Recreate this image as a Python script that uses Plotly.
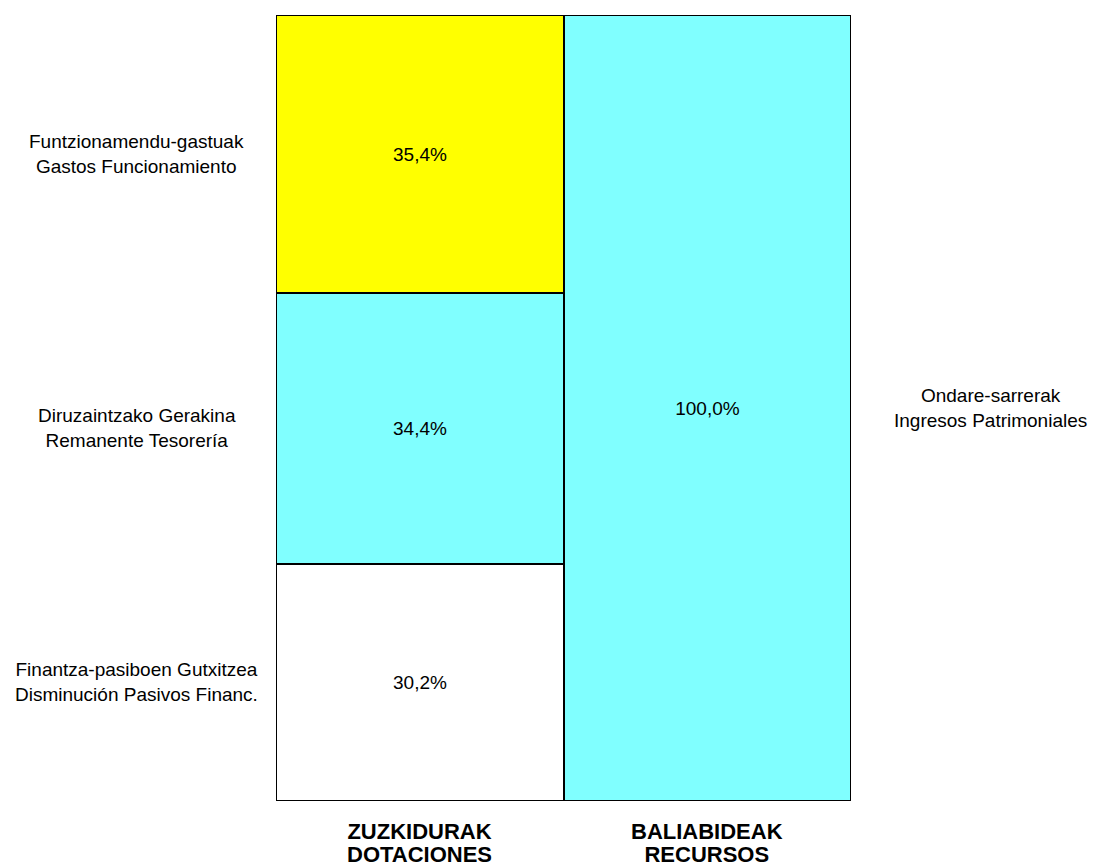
import plotly.graph_objects as go

categories = ["DOTACIONES", "RECURSOS"]
category_labels = [["ZUZKIDURAK", "DOTACIONES"], ["BALIABIDEAK", "RECURSOS"]]
segment_names = [
    "Finantza-pasiboen Gutxitzea<br>Disminución Pasivos Financ.",
    "Diruzaintzako Gerakina<br>Remanente Tesorería",
    "Funtzionamendu-gastuak<br>Gastos Funcionamiento",
    "Ondare-sarrerak<br>Ingresos Patrimoniales",
]
segment_category = [0, 0, 0, 1]
segment_values = [30.2, 34.4, 35.4, 100.0]
segment_colors = ["#FFFFFF", "#80FFFF", "#FFFF00", "#80FFFF"]
label_side = ["left", "left", "left", "right"]

FONT = "Liberation Sans, Arial, sans-serif"

fig = go.Figure()
cum = {0: 0.0, 1: 0.0}
annotations = []
for name, ci, v, col, side in zip(segment_names, segment_category, segment_values, segment_colors, label_side):
    txt = f"{v:.1f}%".replace(".", ",")
    fig.add_trace(go.Bar(
        x=[categories[ci]], y=[v], name=name,
        marker=dict(color=col, line=dict(color="black", width=2)),
        text=[txt], textposition="inside", insidetextanchor="middle",
        textfont=dict(family=FONT, size=19, color="black"),
        hoverinfo="skip",
    ))
    mid = cum[ci] + v / 2
    cum[ci] += v
    annotations.append(dict(
        x=-0.242 if side == "left" else 1.242, xref="paper",
        y=mid, yref="y", text=name, showarrow=False,
        xanchor="center", yanchor="middle",
        font=dict(family=FONT, size=19, color="black"), align="center",
    ))

# category labels: two bold lines with tight line spacing
for cat, lines in zip(categories, category_labels):
    label = "<br>".join(f'<span style="font-size:22px"><b>{ln}</b></span>' for ln in lines)
    annotations.append(dict(
        x=cat, xref="x", y=-0.0535, yref="paper",
        text=label, showarrow=False,
        xanchor="center", yanchor="middle", align="center",
        font=dict(family=FONT, size=17.5, color="black"),
    ))

fig.update_layout(
    barmode="stack", bargap=0,
    width=1095, height=866,
    margin=dict(l=276, r=244, t=15, b=65),
    plot_bgcolor="white", paper_bgcolor="white",
    showlegend=False,
    annotations=annotations,
)
fig.update_xaxes(showticklabels=False, showgrid=False, zeroline=False, showline=False, ticks="")
fig.update_yaxes(range=[0, 100], showticklabels=False, showgrid=False, zeroline=False, showline=False, ticks="")

fig.write_html(
    "out.html",
    config={"displayModeBar": False},
    post_script="document.body.style.margin='0';document.body.style.overflow='hidden';",
)
